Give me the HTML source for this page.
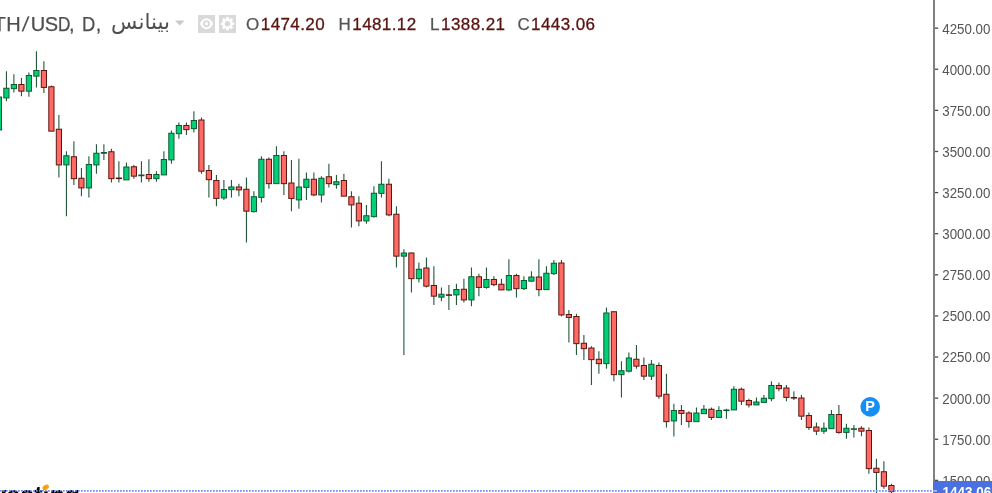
<!DOCTYPE html>
<html lang="ar">
<head>
<meta charset="utf-8">
<title>ETH/USD</title>
<style>
html,body{margin:0;padding:0;background:#fff;}
body{width:992px;height:493px;overflow:hidden;position:relative;font-family:"Liberation Sans","DejaVu Sans",sans-serif;}
#chart{position:absolute;left:0;top:0;width:992px;height:493px;display:block;}
.ax{font-family:"Liberation Sans",sans-serif;font-size:13.8px;fill:#555;}
.hdr{position:absolute;top:11px;height:24px;line-height:24px;white-space:nowrap;color:#4f4f4f;}
#title{left:-20.3px;font-size:20px;direction:ltr;top:12px;-webkit-text-stroke:0.25px #4f4f4f;}
#title span{display:inline-block;transform-origin:0 50%;}
#exch{left:111px;font-size:21.5px;font-family:"DejaVu Sans","Liberation Sans",sans-serif;top:10px;direction:rtl;}
.lab{font-size:17px;color:#555;top:13.4px;-webkit-text-stroke:0.25px #555;}
.val{font-size:17px;color:#5a1410;top:13.4px;letter-spacing:0.4px;-webkit-text-stroke:0.3px #5a1410;}
.ohlc{font-size:15.5px;color:#555;}
.ohlc b{font-weight:normal;color:#5a1611;letter-spacing:0.55px;margin-left:4px;}
.ibox{position:absolute;top:15px;width:17px;height:17.5px;background:#d9d9d9;}
</style>
</head>
<body>
<svg id="chart" width="992" height="493" viewBox="0 0 992 493">
<g id="candles">
<rect x="-1.60" y="95.00" width="1" height="36.00" fill="#0e4a26"/>
<rect x="-3.70" y="97.00" width="5.2" height="32.90" fill="#00d078" stroke="#0b5a30" stroke-width="1"/>
<rect x="5.90" y="71.25" width="1" height="30.00" fill="#0e4a26"/>
<rect x="3.80" y="88.25" width="5.2" height="9.65" fill="#00d078" stroke="#0b5a30" stroke-width="1"/>
<rect x="13.40" y="74.25" width="1" height="18.25" fill="#0e4a26"/>
<rect x="11.30" y="84.50" width="5.2" height="4.15" fill="#00d078" stroke="#0b5a30" stroke-width="1"/>
<rect x="20.90" y="78.00" width="1" height="18.25" fill="#0e4a26"/>
<rect x="18.80" y="84.50" width="5.2" height="6.65" fill="#ff6b64" stroke="#5e1510" stroke-width="1"/>
<rect x="28.40" y="72.50" width="1" height="24.25" fill="#0e4a26"/>
<rect x="26.30" y="75.50" width="5.2" height="15.65" fill="#00d078" stroke="#0b5a30" stroke-width="1"/>
<rect x="35.90" y="51.25" width="1" height="36.25" fill="#0e4a26"/>
<rect x="33.80" y="70.50" width="5.2" height="5.65" fill="#00d078" stroke="#0b5a30" stroke-width="1"/>
<rect x="43.40" y="61.25" width="1" height="31.75" fill="#0e4a26"/>
<rect x="41.30" y="70.50" width="5.2" height="16.90" fill="#ff6b64" stroke="#5e1510" stroke-width="1"/>
<rect x="50.90" y="85.50" width="1" height="45.50" fill="#0e4a26"/>
<rect x="48.80" y="86.75" width="5.2" height="44.40" fill="#ff6b64" stroke="#5e1510" stroke-width="1"/>
<rect x="58.40" y="115.00" width="1" height="62.50" fill="#0e4a26"/>
<rect x="56.30" y="129.25" width="5.2" height="35.65" fill="#ff6b64" stroke="#5e1510" stroke-width="1"/>
<rect x="65.90" y="151.25" width="1" height="65.00" fill="#0e4a26"/>
<rect x="63.80" y="155.75" width="5.2" height="9.15" fill="#00d078" stroke="#0b5a30" stroke-width="1"/>
<rect x="73.40" y="141.25" width="1" height="43.75" fill="#0e4a26"/>
<rect x="71.30" y="156.75" width="5.2" height="21.90" fill="#ff6b64" stroke="#5e1510" stroke-width="1"/>
<rect x="80.90" y="168.00" width="1" height="28.25" fill="#0e4a26"/>
<rect x="78.80" y="178.25" width="5.2" height="9.65" fill="#ff6b64" stroke="#5e1510" stroke-width="1"/>
<rect x="88.40" y="156.25" width="1" height="41.25" fill="#0e4a26"/>
<rect x="86.30" y="164.50" width="5.2" height="23.40" fill="#00d078" stroke="#0b5a30" stroke-width="1"/>
<rect x="95.90" y="144.25" width="1" height="29.50" fill="#0e4a26"/>
<rect x="93.80" y="153.25" width="5.2" height="11.65" fill="#00d078" stroke="#0b5a30" stroke-width="1"/>
<rect x="103.40" y="144.25" width="1" height="15.75" fill="#0e4a26"/>
<rect x="100.80" y="152.00" width="6.2" height="1.75" fill="#0b5a30"/>
<rect x="110.90" y="148.75" width="1" height="33.75" fill="#0e4a26"/>
<rect x="108.80" y="151.75" width="5.2" height="26.90" fill="#ff6b64" stroke="#5e1510" stroke-width="1"/>
<rect x="118.40" y="161.25" width="1" height="21.25" fill="#0e4a26"/>
<rect x="115.80" y="177.50" width="6.2" height="1.60" fill="#5e1510"/>
<rect x="125.90" y="162.50" width="1" height="17.50" fill="#0e4a26"/>
<rect x="123.80" y="167.00" width="5.2" height="12.90" fill="#00d078" stroke="#0b5a30" stroke-width="1"/>
<rect x="133.40" y="165.00" width="1" height="13.75" fill="#0e4a26"/>
<rect x="131.30" y="166.75" width="5.2" height="9.40" fill="#ff6b64" stroke="#5e1510" stroke-width="1"/>
<rect x="140.90" y="161.25" width="1" height="21.25" fill="#0e4a26"/>
<rect x="138.30" y="174.50" width="6.2" height="1.75" fill="#0b5a30"/>
<rect x="148.40" y="159.25" width="1" height="22.50" fill="#0e4a26"/>
<rect x="146.30" y="174.50" width="5.2" height="4.15" fill="#ff6b64" stroke="#5e1510" stroke-width="1"/>
<rect x="155.90" y="171.25" width="1" height="10.50" fill="#0e4a26"/>
<rect x="153.80" y="174.50" width="5.2" height="4.15" fill="#00d078" stroke="#0b5a30" stroke-width="1"/>
<rect x="163.40" y="151.25" width="1" height="23.75" fill="#0e4a26"/>
<rect x="161.30" y="159.50" width="5.2" height="15.40" fill="#00d078" stroke="#0b5a30" stroke-width="1"/>
<rect x="170.90" y="130.50" width="1" height="33.25" fill="#0e4a26"/>
<rect x="168.80" y="133.25" width="5.2" height="26.65" fill="#00d078" stroke="#0b5a30" stroke-width="1"/>
<rect x="178.40" y="122.50" width="1" height="16.25" fill="#0e4a26"/>
<rect x="176.30" y="125.50" width="5.2" height="8.15" fill="#00d078" stroke="#0b5a30" stroke-width="1"/>
<rect x="185.90" y="122.50" width="1" height="12.50" fill="#0e4a26"/>
<rect x="183.80" y="125.50" width="5.2" height="4.15" fill="#ff6b64" stroke="#5e1510" stroke-width="1"/>
<rect x="193.40" y="111.25" width="1" height="21.25" fill="#0e4a26"/>
<rect x="191.30" y="120.50" width="5.2" height="8.15" fill="#00d078" stroke="#0b5a30" stroke-width="1"/>
<rect x="200.90" y="117.50" width="1" height="56.25" fill="#0e4a26"/>
<rect x="198.80" y="120.00" width="5.2" height="51.15" fill="#ff6b64" stroke="#5e1510" stroke-width="1"/>
<rect x="208.40" y="165.00" width="1" height="32.50" fill="#0e4a26"/>
<rect x="206.30" y="170.50" width="5.2" height="9.15" fill="#ff6b64" stroke="#5e1510" stroke-width="1"/>
<rect x="215.90" y="175.00" width="1" height="31.25" fill="#0e4a26"/>
<rect x="213.80" y="180.50" width="5.2" height="17.90" fill="#ff6b64" stroke="#5e1510" stroke-width="1"/>
<rect x="223.40" y="180.00" width="1" height="20.00" fill="#0e4a26"/>
<rect x="221.30" y="189.50" width="5.2" height="8.40" fill="#00d078" stroke="#0b5a30" stroke-width="1"/>
<rect x="230.90" y="180.00" width="1" height="17.50" fill="#0e4a26"/>
<rect x="228.80" y="187.00" width="5.2" height="2.65" fill="#00d078" stroke="#0b5a30" stroke-width="1"/>
<rect x="238.40" y="183.75" width="1" height="12.50" fill="#0e4a26"/>
<rect x="236.30" y="187.00" width="5.2" height="2.90" fill="#ff6b64" stroke="#5e1510" stroke-width="1"/>
<rect x="245.90" y="177.50" width="1" height="65.00" fill="#0e4a26"/>
<rect x="243.80" y="189.25" width="5.2" height="21.90" fill="#ff6b64" stroke="#5e1510" stroke-width="1"/>
<rect x="253.40" y="191.25" width="1" height="21.25" fill="#0e4a26"/>
<rect x="251.30" y="196.75" width="5.2" height="14.90" fill="#00d078" stroke="#0b5a30" stroke-width="1"/>
<rect x="260.90" y="156.25" width="1" height="46.25" fill="#0e4a26"/>
<rect x="258.80" y="159.25" width="5.2" height="38.15" fill="#00d078" stroke="#0b5a30" stroke-width="1"/>
<rect x="268.40" y="157.50" width="1" height="31.25" fill="#0e4a26"/>
<rect x="266.30" y="159.25" width="5.2" height="24.40" fill="#ff6b64" stroke="#5e1510" stroke-width="1"/>
<rect x="275.90" y="146.25" width="1" height="37.00" fill="#0e4a26"/>
<rect x="273.80" y="155.50" width="5.2" height="28.15" fill="#00d078" stroke="#0b5a30" stroke-width="1"/>
<rect x="283.40" y="151.25" width="1" height="43.75" fill="#0e4a26"/>
<rect x="281.30" y="155.50" width="5.2" height="28.15" fill="#ff6b64" stroke="#5e1510" stroke-width="1"/>
<rect x="290.90" y="160.00" width="1" height="51.25" fill="#0e4a26"/>
<rect x="288.80" y="183.00" width="5.2" height="15.40" fill="#ff6b64" stroke="#5e1510" stroke-width="1"/>
<rect x="298.40" y="158.75" width="1" height="50.00" fill="#0e4a26"/>
<rect x="296.30" y="187.00" width="5.2" height="12.90" fill="#00d078" stroke="#0b5a30" stroke-width="1"/>
<rect x="305.90" y="172.50" width="1" height="27.50" fill="#0e4a26"/>
<rect x="303.80" y="179.25" width="5.2" height="8.15" fill="#00d078" stroke="#0b5a30" stroke-width="1"/>
<rect x="313.40" y="172.50" width="1" height="23.75" fill="#0e4a26"/>
<rect x="311.30" y="179.25" width="5.2" height="15.65" fill="#ff6b64" stroke="#5e1510" stroke-width="1"/>
<rect x="320.90" y="176.25" width="1" height="26.25" fill="#0e4a26"/>
<rect x="318.80" y="178.25" width="5.2" height="16.65" fill="#00d078" stroke="#0b5a30" stroke-width="1"/>
<rect x="328.40" y="163.75" width="1" height="23.75" fill="#0e4a26"/>
<rect x="326.30" y="176.75" width="5.2" height="6.90" fill="#ff6b64" stroke="#5e1510" stroke-width="1"/>
<rect x="335.90" y="175.00" width="1" height="13.75" fill="#0e4a26"/>
<rect x="333.80" y="181.75" width="5.2" height="2.90" fill="#00d078" stroke="#0b5a30" stroke-width="1"/>
<rect x="343.40" y="173.75" width="1" height="22.50" fill="#0e4a26"/>
<rect x="341.30" y="180.50" width="5.2" height="15.65" fill="#ff6b64" stroke="#5e1510" stroke-width="1"/>
<rect x="350.90" y="191.25" width="1" height="36.25" fill="#0e4a26"/>
<rect x="348.80" y="196.75" width="5.2" height="8.15" fill="#ff6b64" stroke="#5e1510" stroke-width="1"/>
<rect x="358.40" y="196.25" width="1" height="30.00" fill="#0e4a26"/>
<rect x="356.30" y="203.25" width="5.2" height="17.65" fill="#ff6b64" stroke="#5e1510" stroke-width="1"/>
<rect x="365.90" y="205.00" width="1" height="18.75" fill="#0e4a26"/>
<rect x="363.80" y="215.75" width="5.2" height="5.15" fill="#00d078" stroke="#0b5a30" stroke-width="1"/>
<rect x="373.40" y="186.25" width="1" height="31.25" fill="#0e4a26"/>
<rect x="371.30" y="193.25" width="5.2" height="23.40" fill="#00d078" stroke="#0b5a30" stroke-width="1"/>
<rect x="380.90" y="161.25" width="1" height="36.25" fill="#0e4a26"/>
<rect x="378.80" y="184.25" width="5.2" height="9.15" fill="#00d078" stroke="#0b5a30" stroke-width="1"/>
<rect x="388.40" y="178.75" width="1" height="37.50" fill="#0e4a26"/>
<rect x="386.30" y="184.25" width="5.2" height="30.65" fill="#ff6b64" stroke="#5e1510" stroke-width="1"/>
<rect x="395.90" y="206.25" width="1" height="61.25" fill="#0e4a26"/>
<rect x="393.80" y="214.25" width="5.2" height="41.90" fill="#ff6b64" stroke="#5e1510" stroke-width="1"/>
<rect x="403.40" y="249.25" width="1" height="105.75" fill="#0e4a26"/>
<rect x="401.30" y="253.00" width="5.2" height="3.15" fill="#00d078" stroke="#0b5a30" stroke-width="1"/>
<rect x="410.90" y="252.50" width="1" height="40.00" fill="#0e4a26"/>
<rect x="408.80" y="253.00" width="5.2" height="25.65" fill="#ff6b64" stroke="#5e1510" stroke-width="1"/>
<rect x="418.40" y="262.50" width="1" height="20.00" fill="#0e4a26"/>
<rect x="416.30" y="269.25" width="5.2" height="9.40" fill="#00d078" stroke="#0b5a30" stroke-width="1"/>
<rect x="425.90" y="257.50" width="1" height="30.00" fill="#0e4a26"/>
<rect x="423.80" y="268.00" width="5.2" height="18.15" fill="#ff6b64" stroke="#5e1510" stroke-width="1"/>
<rect x="433.40" y="266.25" width="1" height="38.75" fill="#0e4a26"/>
<rect x="431.30" y="285.50" width="5.2" height="10.65" fill="#ff6b64" stroke="#5e1510" stroke-width="1"/>
<rect x="440.90" y="287.50" width="1" height="13.75" fill="#0e4a26"/>
<rect x="438.80" y="294.25" width="5.2" height="2.90" fill="#00d078" stroke="#0b5a30" stroke-width="1"/>
<rect x="448.40" y="285.00" width="1" height="25.00" fill="#0e4a26"/>
<rect x="445.80" y="294.25" width="6.2" height="1.60" fill="#5e1510"/>
<rect x="455.90" y="283.75" width="1" height="21.25" fill="#0e4a26"/>
<rect x="453.80" y="289.50" width="5.2" height="5.40" fill="#00d078" stroke="#0b5a30" stroke-width="1"/>
<rect x="463.40" y="278.75" width="1" height="23.75" fill="#0e4a26"/>
<rect x="461.30" y="289.25" width="5.2" height="10.65" fill="#ff6b64" stroke="#5e1510" stroke-width="1"/>
<rect x="470.90" y="267.50" width="1" height="38.75" fill="#0e4a26"/>
<rect x="468.80" y="276.75" width="5.2" height="23.15" fill="#00d078" stroke="#0b5a30" stroke-width="1"/>
<rect x="478.40" y="273.75" width="1" height="22.50" fill="#0e4a26"/>
<rect x="476.30" y="276.75" width="5.2" height="10.65" fill="#ff6b64" stroke="#5e1510" stroke-width="1"/>
<rect x="485.90" y="267.50" width="1" height="21.25" fill="#0e4a26"/>
<rect x="483.80" y="279.50" width="5.2" height="7.90" fill="#00d078" stroke="#0b5a30" stroke-width="1"/>
<rect x="493.40" y="276.25" width="1" height="10.00" fill="#0e4a26"/>
<rect x="491.30" y="279.50" width="5.2" height="5.15" fill="#ff6b64" stroke="#5e1510" stroke-width="1"/>
<rect x="500.90" y="278.75" width="1" height="11.25" fill="#0e4a26"/>
<rect x="498.80" y="284.25" width="5.2" height="5.65" fill="#ff6b64" stroke="#5e1510" stroke-width="1"/>
<rect x="508.40" y="259.25" width="1" height="32.00" fill="#0e4a26"/>
<rect x="506.30" y="275.50" width="5.2" height="14.40" fill="#00d078" stroke="#0b5a30" stroke-width="1"/>
<rect x="515.90" y="273.75" width="1" height="23.75" fill="#0e4a26"/>
<rect x="513.80" y="275.50" width="5.2" height="13.15" fill="#ff6b64" stroke="#5e1510" stroke-width="1"/>
<rect x="523.40" y="276.25" width="1" height="13.75" fill="#0e4a26"/>
<rect x="521.30" y="280.50" width="5.2" height="8.15" fill="#00d078" stroke="#0b5a30" stroke-width="1"/>
<rect x="530.90" y="271.25" width="1" height="10.50" fill="#0e4a26"/>
<rect x="528.80" y="277.00" width="5.2" height="4.15" fill="#00d078" stroke="#0b5a30" stroke-width="1"/>
<rect x="538.40" y="259.25" width="1" height="37.00" fill="#0e4a26"/>
<rect x="536.30" y="277.00" width="5.2" height="12.65" fill="#ff6b64" stroke="#5e1510" stroke-width="1"/>
<rect x="545.90" y="266.25" width="1" height="23.75" fill="#0e4a26"/>
<rect x="543.80" y="273.25" width="5.2" height="16.40" fill="#00d078" stroke="#0b5a30" stroke-width="1"/>
<rect x="553.40" y="260.00" width="1" height="15.00" fill="#0e4a26"/>
<rect x="551.30" y="263.25" width="5.2" height="10.40" fill="#00d078" stroke="#0b5a30" stroke-width="1"/>
<rect x="560.90" y="260.00" width="1" height="56.25" fill="#0e4a26"/>
<rect x="558.80" y="263.00" width="5.2" height="51.90" fill="#ff6b64" stroke="#5e1510" stroke-width="1"/>
<rect x="568.40" y="310.00" width="1" height="32.50" fill="#0e4a26"/>
<rect x="566.30" y="314.50" width="5.2" height="2.90" fill="#ff6b64" stroke="#5e1510" stroke-width="1"/>
<rect x="575.90" y="313.75" width="1" height="41.25" fill="#0e4a26"/>
<rect x="573.80" y="316.50" width="5.2" height="27.15" fill="#ff6b64" stroke="#5e1510" stroke-width="1"/>
<rect x="583.40" y="335.00" width="1" height="25.00" fill="#0e4a26"/>
<rect x="581.30" y="343.25" width="5.2" height="5.40" fill="#ff6b64" stroke="#5e1510" stroke-width="1"/>
<rect x="590.90" y="346.25" width="1" height="38.75" fill="#0e4a26"/>
<rect x="588.80" y="348.00" width="5.2" height="11.65" fill="#ff6b64" stroke="#5e1510" stroke-width="1"/>
<rect x="598.40" y="351.25" width="1" height="22.50" fill="#0e4a26"/>
<rect x="596.30" y="359.25" width="5.2" height="4.40" fill="#ff6b64" stroke="#5e1510" stroke-width="1"/>
<rect x="605.90" y="307.50" width="1" height="61.25" fill="#0e4a26"/>
<rect x="603.80" y="313.00" width="5.2" height="50.65" fill="#00d078" stroke="#0b5a30" stroke-width="1"/>
<rect x="613.40" y="311.25" width="1" height="70.00" fill="#0e4a26"/>
<rect x="611.30" y="311.75" width="5.2" height="62.90" fill="#ff6b64" stroke="#5e1510" stroke-width="1"/>
<rect x="620.90" y="361.25" width="1" height="36.25" fill="#0e4a26"/>
<rect x="618.80" y="370.75" width="5.2" height="3.90" fill="#00d078" stroke="#0b5a30" stroke-width="1"/>
<rect x="628.40" y="352.50" width="1" height="20.00" fill="#0e4a26"/>
<rect x="626.30" y="358.00" width="5.2" height="13.15" fill="#00d078" stroke="#0b5a30" stroke-width="1"/>
<rect x="635.90" y="345.00" width="1" height="23.75" fill="#0e4a26"/>
<rect x="633.80" y="359.25" width="5.2" height="6.90" fill="#ff6b64" stroke="#5e1510" stroke-width="1"/>
<rect x="643.40" y="357.50" width="1" height="22.50" fill="#0e4a26"/>
<rect x="641.30" y="365.50" width="5.2" height="10.65" fill="#ff6b64" stroke="#5e1510" stroke-width="1"/>
<rect x="650.90" y="360.00" width="1" height="20.00" fill="#0e4a26"/>
<rect x="648.80" y="364.25" width="5.2" height="11.90" fill="#00d078" stroke="#0b5a30" stroke-width="1"/>
<rect x="658.40" y="362.50" width="1" height="36.25" fill="#0e4a26"/>
<rect x="656.30" y="365.50" width="5.2" height="30.65" fill="#ff6b64" stroke="#5e1510" stroke-width="1"/>
<rect x="665.90" y="373.75" width="1" height="53.85" fill="#0e4a26"/>
<rect x="663.80" y="394.25" width="5.2" height="27.40" fill="#ff6b64" stroke="#5e1510" stroke-width="1"/>
<rect x="673.40" y="403.75" width="1" height="32.75" fill="#0e4a26"/>
<rect x="671.30" y="410.50" width="5.2" height="10.40" fill="#00d078" stroke="#0b5a30" stroke-width="1"/>
<rect x="680.90" y="405.00" width="1" height="20.00" fill="#0e4a26"/>
<rect x="678.80" y="410.50" width="5.2" height="2.90" fill="#ff6b64" stroke="#5e1510" stroke-width="1"/>
<rect x="688.40" y="411.25" width="1" height="16.35" fill="#0e4a26"/>
<rect x="686.30" y="413.00" width="5.2" height="8.40" fill="#ff6b64" stroke="#5e1510" stroke-width="1"/>
<rect x="695.90" y="407.50" width="1" height="13.75" fill="#0e4a26"/>
<rect x="693.80" y="413.00" width="5.2" height="8.65" fill="#00d078" stroke="#0b5a30" stroke-width="1"/>
<rect x="703.40" y="405.00" width="1" height="8.25" fill="#0e4a26"/>
<rect x="701.30" y="409.25" width="5.2" height="4.40" fill="#00d078" stroke="#0b5a30" stroke-width="1"/>
<rect x="710.90" y="407.50" width="1" height="12.50" fill="#0e4a26"/>
<rect x="708.80" y="409.25" width="5.2" height="8.15" fill="#ff6b64" stroke="#5e1510" stroke-width="1"/>
<rect x="718.40" y="406.25" width="1" height="11.25" fill="#0e4a26"/>
<rect x="716.30" y="410.50" width="5.2" height="6.90" fill="#00d078" stroke="#0b5a30" stroke-width="1"/>
<rect x="725.90" y="408.75" width="1" height="10.00" fill="#0e4a26"/>
<rect x="723.30" y="409.50" width="6.2" height="1.60" fill="#0b5a30"/>
<rect x="733.40" y="386.25" width="1" height="23.75" fill="#0e4a26"/>
<rect x="731.30" y="389.25" width="5.2" height="20.65" fill="#00d078" stroke="#0b5a30" stroke-width="1"/>
<rect x="740.90" y="387.50" width="1" height="17.50" fill="#0e4a26"/>
<rect x="738.80" y="389.25" width="5.2" height="11.90" fill="#ff6b64" stroke="#5e1510" stroke-width="1"/>
<rect x="748.40" y="398.75" width="1" height="8.75" fill="#0e4a26"/>
<rect x="746.30" y="400.50" width="5.2" height="4.40" fill="#ff6b64" stroke="#5e1510" stroke-width="1"/>
<rect x="755.90" y="397.50" width="1" height="7.50" fill="#0e4a26"/>
<rect x="753.80" y="402.00" width="5.2" height="2.90" fill="#00d078" stroke="#0b5a30" stroke-width="1"/>
<rect x="763.40" y="395.00" width="1" height="7.50" fill="#0e4a26"/>
<rect x="761.30" y="398.25" width="5.2" height="4.15" fill="#00d078" stroke="#0b5a30" stroke-width="1"/>
<rect x="770.90" y="381.25" width="1" height="20.00" fill="#0e4a26"/>
<rect x="768.80" y="385.50" width="5.2" height="13.15" fill="#00d078" stroke="#0b5a30" stroke-width="1"/>
<rect x="778.40" y="382.50" width="1" height="8.75" fill="#0e4a26"/>
<rect x="776.30" y="385.50" width="5.2" height="3.15" fill="#ff6b64" stroke="#5e1510" stroke-width="1"/>
<rect x="785.90" y="385.00" width="1" height="16.25" fill="#0e4a26"/>
<rect x="783.80" y="388.00" width="5.2" height="9.40" fill="#ff6b64" stroke="#5e1510" stroke-width="1"/>
<rect x="793.40" y="391.25" width="1" height="8.75" fill="#0e4a26"/>
<rect x="790.80" y="397.00" width="6.2" height="1.60" fill="#5e1510"/>
<rect x="800.90" y="395.00" width="1" height="25.00" fill="#0e4a26"/>
<rect x="798.80" y="398.00" width="5.2" height="18.15" fill="#ff6b64" stroke="#5e1510" stroke-width="1"/>
<rect x="808.40" y="412.50" width="1" height="17.50" fill="#0e4a26"/>
<rect x="806.30" y="415.50" width="5.2" height="11.90" fill="#ff6b64" stroke="#5e1510" stroke-width="1"/>
<rect x="815.90" y="422.50" width="1" height="12.50" fill="#0e4a26"/>
<rect x="813.80" y="427.00" width="5.2" height="4.15" fill="#ff6b64" stroke="#5e1510" stroke-width="1"/>
<rect x="823.40" y="422.50" width="1" height="11.25" fill="#0e4a26"/>
<rect x="821.30" y="428.25" width="5.2" height="2.90" fill="#00d078" stroke="#0b5a30" stroke-width="1"/>
<rect x="830.90" y="410.00" width="1" height="18.75" fill="#0e4a26"/>
<rect x="828.80" y="414.50" width="5.2" height="14.15" fill="#00d078" stroke="#0b5a30" stroke-width="1"/>
<rect x="838.40" y="405.00" width="1" height="28.75" fill="#0e4a26"/>
<rect x="836.30" y="414.50" width="5.2" height="17.90" fill="#ff6b64" stroke="#5e1510" stroke-width="1"/>
<rect x="845.90" y="423.75" width="1" height="15.00" fill="#0e4a26"/>
<rect x="843.80" y="428.25" width="5.2" height="4.15" fill="#00d078" stroke="#0b5a30" stroke-width="1"/>
<rect x="853.40" y="425.00" width="1" height="12.50" fill="#0e4a26"/>
<rect x="850.80" y="428.25" width="6.2" height="1.60" fill="#0b5a30"/>
<rect x="860.90" y="426.25" width="1" height="10.00" fill="#0e4a26"/>
<rect x="858.80" y="428.25" width="5.2" height="2.90" fill="#ff6b64" stroke="#5e1510" stroke-width="1"/>
<rect x="868.40" y="427.50" width="1" height="46.25" fill="#0e4a26"/>
<rect x="866.30" y="430.50" width="5.2" height="38.15" fill="#ff6b64" stroke="#5e1510" stroke-width="1"/>
<rect x="875.90" y="458.75" width="1" height="37.25" fill="#0e4a26"/>
<rect x="873.80" y="468.25" width="5.2" height="4.15" fill="#ff6b64" stroke="#5e1510" stroke-width="1"/>
<rect x="883.40" y="461.25" width="1" height="27.50" fill="#0e4a26"/>
<rect x="881.30" y="471.75" width="5.2" height="14.40" fill="#ff6b64" stroke="#5e1510" stroke-width="1"/>
<rect x="890.90" y="483.75" width="1" height="12.25" fill="#0e4a26"/>
<rect x="888.80" y="485.50" width="5.2" height="6.15" fill="#ff6b64" stroke="#5e1510" stroke-width="1"/>
</g>
<!-- watermark logo (cropped at the bottom edge) -->
<text x="-29.8" y="504.1" style="font-family:'Liberation Sans',sans-serif;font-weight:bold;font-size:25px;fill:#000">Investing</text>
<rect x="41.5" y="482" width="8.6" height="9.3" fill="#fff"/>
<ellipse cx="45.7" cy="487.3" rx="3.5" ry="2.3" transform="rotate(-32 45.7 487.3)" fill="#ff9d0a"/>
<!-- last price dotted line -->
<line x1="0" y1="490.85" x2="933" y2="490.85" stroke="#7390ea" stroke-width="1.7" stroke-dasharray="1.7 1.3"/>
<!-- price axis -->
<rect x="933" y="0" width="2" height="493" fill="#808080"/>
<rect x="935" y="27.50" width="3.2" height="1.3" fill="#4a4a4a"/>
<text x="942.3" y="33.60" class="ax" textLength="48" lengthAdjust="spacingAndGlyphs">4250.00</text>
<rect x="935" y="68.61" width="3.2" height="1.3" fill="#4a4a4a"/>
<text x="942.3" y="74.71" class="ax" textLength="48" lengthAdjust="spacingAndGlyphs">4000.00</text>
<rect x="935" y="109.72" width="3.2" height="1.3" fill="#4a4a4a"/>
<text x="942.3" y="115.82" class="ax" textLength="48" lengthAdjust="spacingAndGlyphs">3750.00</text>
<rect x="935" y="150.83" width="3.2" height="1.3" fill="#4a4a4a"/>
<text x="942.3" y="156.93" class="ax" textLength="48" lengthAdjust="spacingAndGlyphs">3500.00</text>
<rect x="935" y="191.94" width="3.2" height="1.3" fill="#4a4a4a"/>
<text x="942.3" y="198.04" class="ax" textLength="48" lengthAdjust="spacingAndGlyphs">3250.00</text>
<rect x="935" y="233.05" width="3.2" height="1.3" fill="#4a4a4a"/>
<text x="942.3" y="239.15" class="ax" textLength="48" lengthAdjust="spacingAndGlyphs">3000.00</text>
<rect x="935" y="274.16" width="3.2" height="1.3" fill="#4a4a4a"/>
<text x="942.3" y="280.26" class="ax" textLength="48" lengthAdjust="spacingAndGlyphs">2750.00</text>
<rect x="935" y="315.27" width="3.2" height="1.3" fill="#4a4a4a"/>
<text x="942.3" y="321.37" class="ax" textLength="48" lengthAdjust="spacingAndGlyphs">2500.00</text>
<rect x="935" y="356.38" width="3.2" height="1.3" fill="#4a4a4a"/>
<text x="942.3" y="362.48" class="ax" textLength="48" lengthAdjust="spacingAndGlyphs">2250.00</text>
<rect x="935" y="397.49" width="3.2" height="1.3" fill="#4a4a4a"/>
<text x="942.3" y="403.59" class="ax" textLength="48" lengthAdjust="spacingAndGlyphs">2000.00</text>
<rect x="935" y="438.60" width="3.2" height="1.3" fill="#4a4a4a"/>
<text x="942.3" y="444.70" class="ax" textLength="48" lengthAdjust="spacingAndGlyphs">1750.00</text>
<rect x="935" y="479.71" width="3.2" height="1.3" fill="#4a4a4a"/>
<text x="942.3" y="485.81" class="ax" textLength="48" lengthAdjust="spacingAndGlyphs">1500.00</text>
<rect x="933" y="481" width="59" height="12" fill="#4a70e2"/>
<rect x="933" y="490" width="3.9" height="1.7" fill="#a9b9ee"/>
<text x="942.6" y="497" class="ax" style="fill:#fff;font-weight:bold" textLength="48.5" lengthAdjust="spacingAndGlyphs">1443.06</text>
<!-- P marker -->
<circle cx="870.2" cy="406.85" r="9.8" fill="#178ef4"/>
<text x="870" y="410.8" text-anchor="middle" style="font-family:'Liberation Sans',sans-serif;font-weight:bold;font-size:14.5px;fill:#fff">P</text>
</svg>

<div class="hdr" id="title"><span style="letter-spacing:0.5px">ETH</span><span style="letter-spacing:4px;transform:skewX(-8deg);transform-origin:0 100%">/</span><span style="letter-spacing:-0.5px">US</span><span style="letter-spacing:-3px;transform:scaleX(0.86)">D</span><span style="white-space:pre;letter-spacing:0.75px">, </span><span style="letter-spacing:-0.3px;transform:scaleX(0.92)">D</span><span>,</span></div>
<div class="hdr" id="exch">بينانس</div>
<svg style="position:absolute;left:175.1px;top:20.4px" width="10" height="6" viewBox="0 0 10 6"><path d="M0 0.5h9.5L4.75 5.5z" fill="#c9c9c9"/></svg>
<div class="ibox" style="left:198px">
<svg width="17" height="17.5" viewBox="0 0 17 17.5"><path d="M1.9 8.75C3.2 5.5 5.8 3.3 8.5 3.3S13.8 5.5 15.1 8.75C13.8 12 11.2 14.2 8.5 14.2S3.2 12 1.9 8.75z" fill="#fff"/><circle cx="8.5" cy="8.75" r="3.45" fill="#d9d9d9"/><circle cx="8.5" cy="8.75" r="1.7" fill="#fff"/></svg>
</div>
<div class="ibox" style="left:219px">
<svg width="17" height="17.5" viewBox="0 0 17 17.5"><g transform="translate(8.5 8.75)"><circle r="5" fill="#fff"/><g fill="#fff"><rect x="-1.4" y="-6.6" width="2.8" height="13.2"/><rect x="-1.4" y="-6.6" width="2.800" height="13.200" transform="rotate(45)"/><rect x="-1.400" y="-6.600" width="2.800" height="13.200" transform="rotate(90)"/><rect x="-1.400" y="-6.600" width="2.800" height="13.200" transform="rotate(135)"/></g><circle r="2.8" fill="#d9d9d9"/></g></svg>
</div>
<div class="hdr lab" id="lO" style="left:245.9px">O</div><div class="hdr val" id="vO" style="left:260.8px">1474.20</div>
<div class="hdr lab" id="lH" style="left:338.6px">H</div><div class="hdr val" id="vH" style="left:352.3px">1481.12</div>
<div class="hdr lab" id="lL" style="left:429.9px">L</div><div class="hdr val" id="vL" style="left:441.1px">1388.21</div>
<div class="hdr lab" id="lC" style="left:517.6px">C</div><div class="hdr val" id="vC" style="left:531.1px">1443.06</div>
</body>
</html>
